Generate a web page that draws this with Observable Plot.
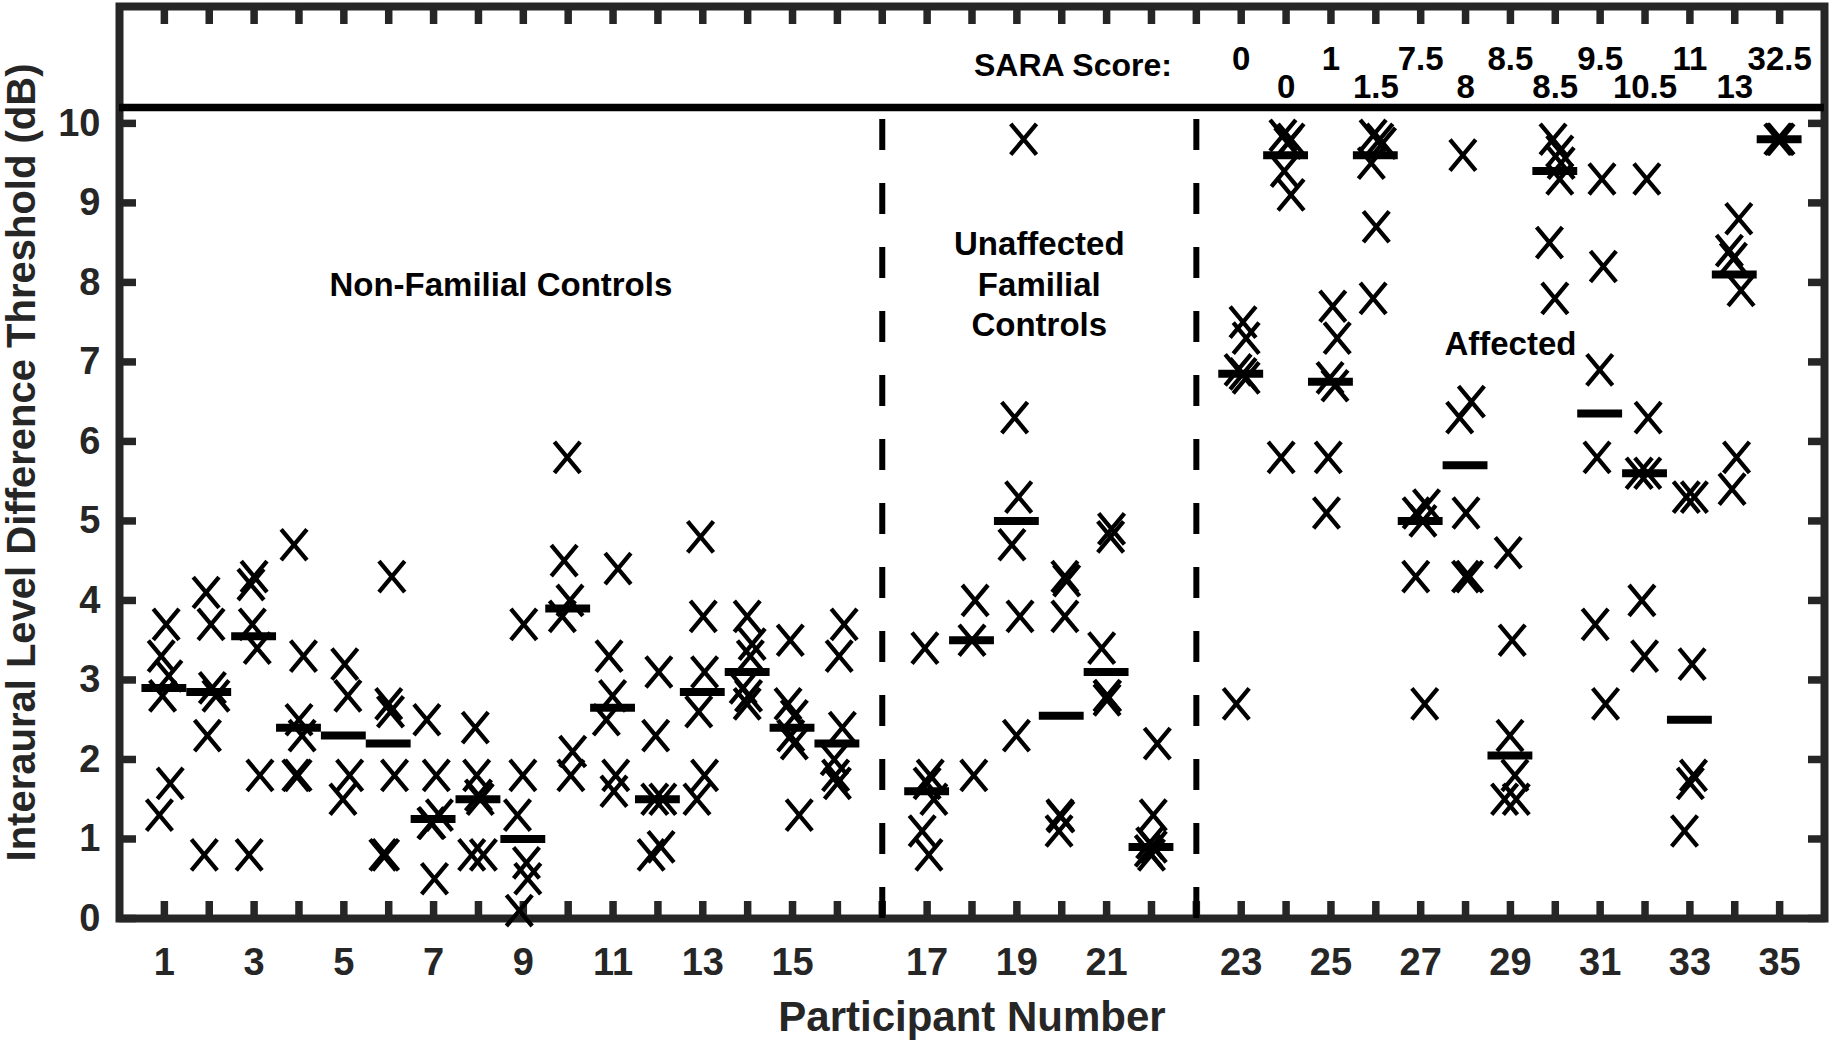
<!DOCTYPE html>
<html><head><meta charset="utf-8">
<script src="https://cdn.jsdelivr.net/npm/d3@7"></script>
<script src="https://cdn.jsdelivr.net/npm/@observablehq/plot@0.6"></script>
<style>
html,body{margin:0;padding:0;background:#fff;}
#chart svg{display:block}
g[aria-label="x-axis label"] text {font-size:42px}
g[aria-label="y-axis label"] text {font-size:40px}
</style></head><body><div id="chart"></div>
<script>
// ---- Data ----
const nonFamilialIds = [1,2,3,4,5,6,7,8,9,10,11,12,13,14,15,16];
const nonFamilialThresholds = [
  [3.7,3.3,3.05,2.8,1.7,1.3],
  [4.1,3.7,2.9,2.8,2.3,0.8],
  [4.3,4.2,3.7,3.4,1.8,0.8],
  [4.7,3.3,2.5,2.3,1.8,1.8],
  [3.2,2.8,1.8,1.5],
  [4.3,2.7,2.6,1.8,0.8,0.8],
  [2.5,1.8,1.3,1.2,1.2,0.5],
  [2.4,1.8,1.55,1.5,0.8,0.8],
  [3.7,1.8,1.3,0.7,0.5,0.1],
  [5.8,4.5,4.0,3.8,2.1,1.8],
  [4.4,3.3,2.8,2.5,1.8,1.6],
  [3.1,2.3,1.5,1.5,0.9,0.8],
  [4.8,3.8,3.1,2.6,1.8,1.5],
  [3.8,3.45,3.3,2.9,2.8,2.7],
  [3.5,2.7,2.55,2.3,2.2,1.3],
  [3.7,3.3,2.4,2.0,1.8,1.7]
];
const nonFamilialJitter = [
  [0.04,-0.07,0.1,-0.04,0.13,-0.11],
  [-0.07,0.04,0.07,0.15,-0.04,-0.11],
  [0,-0.07,-0.04,0.07,0.13,-0.11],
  [-0.11,0.1,0,0.07,-0.07,-0.02],
  [0.02,0.09,0.13,-0.02],
  [0.07,0,0.04,0.13,-0.13,-0.07],
  [-0.15,0.06,0.13,-0.04,-0.06,0.02],
  [-0.07,-0.04,0,0.04,-0.15,0.11],
  [0.01,-0.01,-0.13,0.07,0.1,-0.09],
  [-0.02,-0.09,0.04,-0.13,0.1,0.06],
  [0.11,-0.09,-0.01,-0.15,0.06,0.02],
  [0.02,-0.05,-0.07,0.11,0.07,-0.15],
  [-0.05,0.01,0.04,-0.09,0.04,-0.13],
  [-0.01,0.1,0.06,-0.1,0.02,-0.01],
  [-0.05,-0.1,0.04,-0.04,0.04,0.15],
  [0.15,0.04,0.11,-0.07,-0.04,0]
];
const nonFamilialMedians = [2.9,2.85,3.55,2.4,2.3,2.2,1.25,1.5,1.0,3.9,2.65,1.5,2.85,3.1,2.4,2.2];

const familialIds = [17,18,19,20,21,22];
const familialThresholds = [
  [3.4,1.8,1.7,1.5,1.1,0.8],
  [4.0,3.5,1.8],
  [9.8,6.3,5.3,4.7,3.8,2.3],
  [4.3,4.25,3.8,1.3,1.28,1.1],
  [4.9,4.8,3.4,2.8,2.8,2.75],
  [2.2,1.3,0.95,0.9,0.85,0.8]
];
const familialJitter = [
  [-0.05,0.07,0,0.15,-0.11,0.04],
  [0.07,0,0.04],
  [0.15,-0.05,0.04,-0.11,0.07,-0.01],
  [0.07,0.11,0.07,-0.04,-0.02,-0.06],
  [0.11,0.09,-0.11,0.01,0.02,0.01],
  [0.13,0.04,-0.04,0.04,-0.07,0]
];
const familialMedians = [1.6,3.5,5.0,2.55,3.1,0.9];

const affectedIds = [23,24,25,26,27,28,29,30,31,32,33,34,35];
const affectedThresholds = [
  [7.5,7.3,6.9,6.85,6.8,2.7],
  [9.85,9.8,9.75,9.4,9.1,5.8],
  [7.7,7.3,6.8,6.7,5.8,5.1],
  [9.85,9.8,9.75,9.5,8.7,7.8],
  [5.2,5.1,5.0,4.3,2.7],
  [9.6,6.5,6.3,5.1,4.3,4.3],
  [4.6,3.5,2.3,1.8,1.5,1.5],
  [9.8,9.65,9.5,9.3,8.5,7.8],
  [9.3,8.2,6.9,5.8,3.7,2.7],
  [9.3,6.3,5.6,5.6,4.0,3.3],
  [5.3,5.3,3.2,1.8,1.7,1.1],
  [8.8,8.4,8.3,7.9,5.8,5.4],
  [9.8,9.8,9.8]
];
const affectedJitter = [
  [0.04,0.11,-0.07,0.04,0.11,-0.11],
  [-0.07,0.11,0.04,-0.04,0.11,-0.11],
  [0.04,0.14,-0.02,0.09,-0.06,-0.1],
  [-0.06,0.09,0.15,-0.1,0.01,-0.06],
  [0.13,-0.1,0.05,-0.11,0.09],
  [-0.06,0.13,-0.13,0.01,0,0.09],
  [-0.05,0.04,-0.01,0.1,-0.13,0.13],
  [-0.05,0.1,0.13,0.1,-0.13,-0.01],
  [0.04,0.07,-0.01,-0.07,-0.11,0.12],
  [0.04,0.07,-0.13,0.06,-0.07,-0.01],
  [-0.08,0.1,0.05,0.08,0.01,-0.12],
  [0.09,-0.12,-0.03,0.14,0.04,-0.06],
  [-0.04,0.03,0]
];
const affectedMedians = [6.85,9.6,6.75,9.6,5.0,5.7,2.05,9.4,6.35,5.6,2.5,8.1,9.8];
const saraScores = [0,0,1,1.5,7.5,8,8.5,8.5,9.5,10.5,11,13,32.5];

const groupNames = ["Non-Familial Controls", "Unaffected\nFamilial\nControls", "Affected"];
const groupLabelY = [8, 8, 7.25];
const xTickLabels = [1,3,5,7,9,11,13,15,17,19,21,23,25,27,29,31,33,35];
const yTicks = [0,1,2,3,4,5,6,7,8,9,10];
const headerLineY = 10.2;
const saraTitle = "SARA Score:";
const saraTitleX = 21.25, saraTitleY = 10.73, saraRowY = [10.8, 10.45];

// ---- Build tables ----
const groups = [
  {ids: nonFamilialIds, thr: nonFamilialThresholds, jit: nonFamilialJitter, med: nonFamilialMedians},
  {ids: familialIds, thr: familialThresholds, jit: familialJitter, med: familialMedians},
  {ids: affectedIds, thr: affectedThresholds, jit: affectedJitter, med: affectedMedians}
];
const points = [], medians = [], dividers = [], groupLabels = [];
const posOf = new Map();
let p = 0;
groups.forEach((g, gi) => {
  const gpos = [];
  g.ids.forEach((id, i) => {
    p += 1;
    posOf.set(id, p);
    gpos.push(p);
    g.thr[i].forEach((v, k) => points.push({id, pos: p, x: p + g.jit[i][k], value: v}));
    medians.push({id, pos: p, median: g.med[i]});
  });
  groupLabels.push({x: d3.mean(gpos), y: groupLabelY[gi], text: groupNames[gi]});
  if (gi < groups.length - 1) { p += 1; dividers.push(p); }
});
const xMax = p + 1;
const allTickPos = d3.range(1, xMax);
const labelTickPos = xTickLabels.map(id => posOf.get(id));
const idAtPos = new Map([...posOf].map(([id, q]) => [q, id]));
const sara = affectedIds.map((id, i) => ({x: posOf.get(id), y: saraRowY[i % 2], text: String(saraScores[i])}));

const xSymbol = {
  draw(ctx, size) {
    const r = Math.sqrt(size / Math.PI);
    const w = r * 0.86, h = r * 1.03;
    ctx.moveTo(-w, -h); ctx.lineTo(w, h);
    ctx.moveTo(w, -h); ctx.lineTo(-w, h);
  }
};

const axisColor = "#262626";
const chart = Plot.plot({
  width: 1833, height: 1042,
  marginLeft: 119, marginRight: 9, marginTop: 6, marginBottom: 124,
  x: {domain: [0, xMax]},
  y: {domain: [0, 11.47]},
  style: {fontFamily: "'Liberation Sans', Arial, Helvetica, sans-serif", fontWeight: "bold", background: "#fff", overflow: "visible"},
  marks: [
    Plot.frame({stroke: axisColor, strokeWidth: 8}),
    Plot.axisX(allTickPos, {anchor: "bottom", tickSize: -17, strokeWidth: 7.5, stroke: axisColor, fill: "none", label: null}),
    Plot.axisX(allTickPos, {anchor: "top", tickSize: -17, strokeWidth: 7.5, stroke: axisColor, fill: "none", label: null}),
    Plot.axisX(labelTickPos, {anchor: "bottom", tickSize: 0, tickPadding: 30, fontSize: 38, fill: axisColor,
      tickFormat: q => String(idAtPos.get(q)), label: "Participant Number", labelAnchor: "center", labelOffset: 112, labelArrow: false}),
    Plot.axisY(yTicks, {anchor: "left", tickSize: -17, strokeWidth: 7.5, stroke: axisColor, fill: "none", label: null}),
    Plot.axisY(yTicks, {anchor: "right", tickSize: -17, strokeWidth: 7.5, stroke: axisColor, fill: "none", label: null}),
    Plot.axisY(yTicks, {anchor: "left", tickSize: 0, tickPadding: 19, fontSize: 38, fill: axisColor, tickFormat: d => String(d),
      label: "Interaural Level Difference Threshold (dB)", labelAnchor: "center", labelOffset: 113, labelArrow: false}),
    Plot.ruleY([headerLineY], {stroke: "#000", strokeWidth: 7.5}),
    Plot.ruleX(dividers, {y1: 0, y2: headerLineY, stroke: "#000", strokeWidth: 6, strokeDasharray: "31,33"}),
    Plot.ruleY(medians, {x1: d => d.pos - 0.5, x2: d => d.pos + 0.5, y: "median", stroke: "#000", strokeWidth: 8}),
    Plot.dot(points, {x: "x", y: "value", symbol: xSymbol, r: 15, stroke: "#000", strokeWidth: 4.3, fill: "none"}),
    Plot.text(groupLabels, {x: "x", y: "y", text: "text", fontSize: 33, lineHeight: 1.24, fill: "#000", lineAnchor: "middle"}),
    Plot.text([saraTitle], {x: () => saraTitleX, y: () => saraTitleY, text: d => d, fontSize: 32, fill: "#000"}),
    Plot.text(sara, {x: "x", y: "y", text: "text", fontSize: 33, fill: "#000"})
  ]
});
document.getElementById("chart").appendChild(chart);
</script></body></html>
